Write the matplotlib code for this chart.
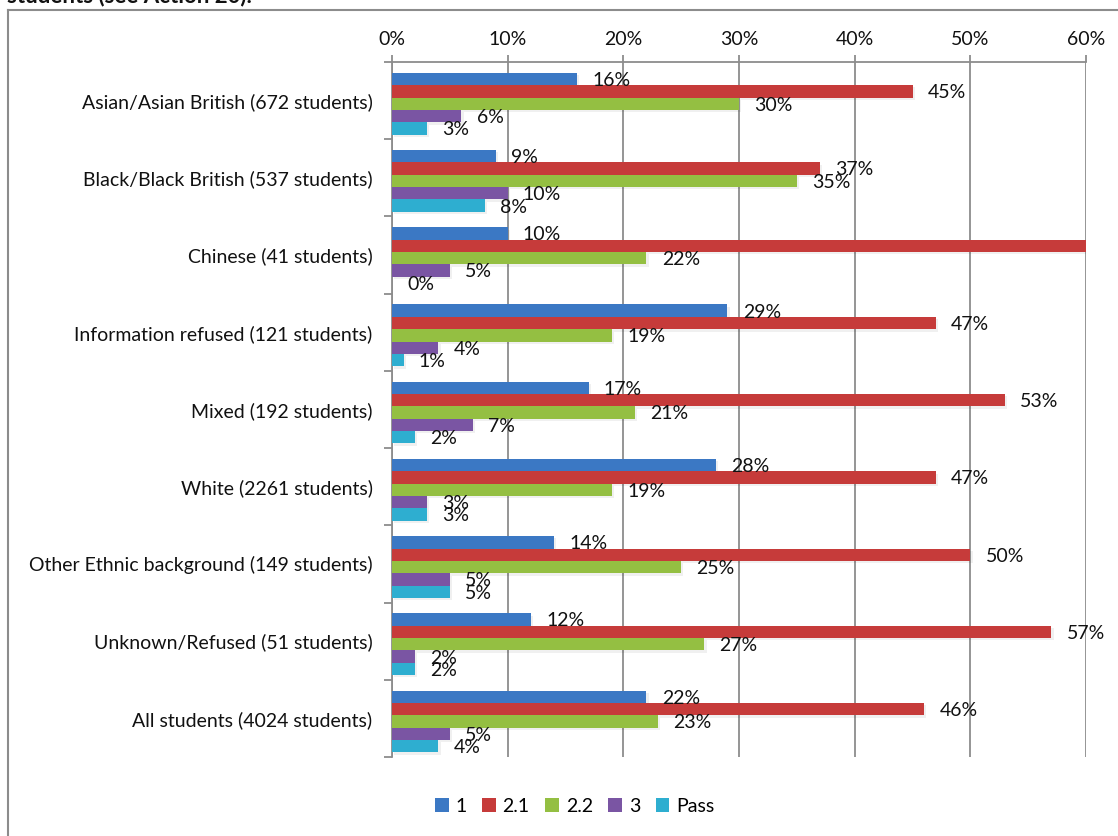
import numpy as np
import matplotlib
matplotlib.use('Agg')
from matplotlib import pyplot as plt
from matplotlib.patches import Patch
from matplotlib.lines import Line2D

plt.rcParams['font.family'] = ['Lato', 'DejaVu Sans']

groups = [
    'Asian/Asian British (672 students)',
    'Black/Black British (537 students)',
    'Chinese (41 students)',
    'Information refused (121 students)',
    'Mixed (192 students)',
    'White (2261 students)',
    'Other Ethnic background (149 students)',
    'Unknown/Refused (51 students)',
    'All students (4024 students)',
]
classes = ['1', '2.1', '2.2', '3', 'Pass']

first = [16, 9, 10, 29, 17, 28, 14, 12, 22]
upper_second = [45, 37, 63, 47, 53, 47, 50, 57, 46]
lower_second = [30, 35, 22, 19, 21, 19, 25, 27, 23]
third = [6, 10, 5, 4, 7, 3, 5, 2, 5]
pass_ = [3, 8, 0, 1, 2, 3, 5, 2, 4]

series = [first, upper_second, lower_second, third, pass_]
colors = ['#3b78c4', '#c63b3a', '#94bf42', '#7a55a3', '#2eaed0']

fs = 14
fig = plt.figure(figsize=(11.18, 8.36), dpi=100)
ax = fig.add_axes([392 / 1118, 1 - 757 / 836, 694 / 1118, 695 / 836])

ypos = np.arange(len(groups))
h = 0.16
for i, (vals, col) in enumerate(zip(series, colors)):
    y = ypos + (i - 2) * h + 0.04
    # soft drop shadow under each bar
    ax.barh(y + 0.03, vals, height=h, left=0.2, color='#000000', alpha=0.06,
            zorder=2, linewidth=0)
    ax.barh(y, vals, height=h, color=col, zorder=3, linewidth=0)
    for yy, v in zip(y, vals):
        ax.annotate(f'{v}%', xy=(v, yy), xytext=(11, -1), textcoords='offset points',
                    ha='left', va='center', fontsize=fs, color='#111111',
                    zorder=5, annotation_clip=True)

ax.set_xlim(0, 60)
ax.set_ylim(len(groups) - 0.5, -0.5)

ax.xaxis.set_ticks_position('top')
ax.set_xticks(np.arange(0, 61, 10))
ax.set_xticklabels([f'{t}%' for t in range(0, 61, 10)])
ax.tick_params(axis='x', length=5, width=1.3, color='#8c8c8c', pad=5,
               labelsize=fs, labelcolor='#111111')
ax.grid(axis='x', color='#8c8c8c', linewidth=1.3, zorder=0)

ax.set_yticks(ypos)
ax.set_yticklabels(groups)
ax.set_yticks(np.arange(-0.5, len(groups), 1), minor=True)
ax.tick_params(axis='y', which='major', length=0, pad=14, labelsize=fs,
               labelcolor='#111111')
ax.tick_params(axis='y', which='minor', length=6, width=1.3, color='#8c8c8c')

for side in ['bottom', 'right']:
    ax.spines[side].set_visible(False)
for side in ['top', 'left']:
    ax.spines[side].set_color('#8c8c8c')
    ax.spines[side].set_linewidth(1.3)
ax.set_axisbelow(True)

handles = [Patch(facecolor=c, edgecolor='none') for c in colors]
fig.legend(handles, classes, loc='center', bbox_to_anchor=(0.514, 1 - 806 / 836),
           ncol=5, frameon=False, fontsize=fs, handlelength=0.7,
           handleheight=0.7, handletextpad=0.35, columnspacing=0.8)

# outer chart frame (top and left edges)
fig.add_artist(Line2D([8 / 1118, 1], [1 - 10 / 836, 1 - 10 / 836],
                      transform=fig.transFigure, color='#8c8c8c', linewidth=1.5))
fig.add_artist(Line2D([8 / 1118, 8 / 1118], [0, 1 - 10 / 836],
                      transform=fig.transFigure, color='#8c8c8c', linewidth=1.5))

fig.text(7 / 1118, 1 - 2 / 836, 'students (see Action 20).', fontsize=16,
         fontweight='bold', ha='left', va='baseline', color='#111111')

fig.savefig('out.png', dpi=100)
